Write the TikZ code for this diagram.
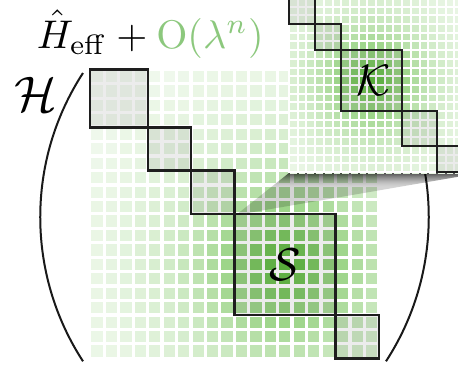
\documentclass[tikz,border=0pt]{standalone}
\usepackage{amsmath}
\definecolor{gcol}{RGB}{76,178,40}
\definecolor{tgreen}{RGB}{140,200,125}
\definecolor{edgec}{RGB}{30,30,30}
\tikzset{
  blockbox/.style={fill=black!45, fill opacity=0.17},
  blockedge/.style={draw=edgec, line width=2.4pt},
  paren/.style={draw=black!90, line width=2pt},
  lbl/.style={inner sep=0pt, text=black},
}
\begin{document}
\begin{tikzpicture}[x=1pt,y=-1pt]
\useasboundingbox (0,0) rectangle (458,370);
\def\p{14.45}
\def\q{8.7}
% main grid
\foreach \i in {0,...,19}{
  \foreach \j in {0,...,19}{
    \pgfmathsetmacro\d{sqrt((\i-13)*(\i-13)+(\j-13)*(\j-13))}
    \pgfmathtruncatemacro\v{100/(1+pow(\d/4.5+0.001,1.8))}
    \fill[gcol!\v!white] ({90+\i*\p+1.4},{69.5+\j*\p+1.4}) rectangle ++(11.2,11.2);
  }
}
% main diagonal blocks
\foreach \s/\n in {0/4,4/3,7/3,10/7,17/3}{
  \fill[blockbox] ({90+\s*\p},{69.5+\s*\p}) rectangle ++({\n*\p},{\n*\p});
  \draw[blockedge] ({90+\s*\p},{69.5+\s*\p}) rectangle ++({\n*\p},{\n*\p});
}
\node[lbl, scale=4.6] (scal) at (285,265) {$\mathcal{S}$};
% parentheses
\draw[paren] (83,73) arc[start angle=213.05, end angle=146.95, radius=264.3];
\draw[paren] (386,73) arc[start angle=-33.05, end angle=33.05, radius=264.3];
% projection cone
\begin{scope}
  \clip (236,215) -- (289,173) -- (480,173) -- cycle;
  \fill[black, opacity=0.17] (230,170) rectangle (460,220);
  \foreach \k in {0,...,13}{
    \pgfmathsetmacro\op{0.6*pow(1-\k/14,1.6)}
    \fill[black, opacity=\op] (230,{173+\k}) rectangle (460,{174.1+\k});
  }
\end{scope}
% inset
\begin{scope}
  \clip (287.5,-5) rectangle (460,173);
  \fill[white] (287.5,-5) rectangle (460,173);
  \foreach \i in {0,...,19}{
    \foreach \j in {0,...,20}{
      \pgfmathsetmacro\d{sqrt((\i-9)*(\i-9)+(\j-9)*(\j-9))}
      \pgfmathtruncatemacro\v{100/(1+pow(\d/4.5+0.001,1.8))}
      \fill[gcol!\v!white] ({289+\i*\q+1.0},{-2.1+\j*\q+1.0}) rectangle ++(6.7,6.7);
    }
  }
  \foreach \s/\n in {0/3,3/3,6/7,13/4,17/3}{
    \fill[blockbox] ({289+\s*\q},{-2.1+\s*\q}) rectangle ++({\n*\q},{\n*\q});
    \draw[blockedge] ({289+\s*\q},{-2.1+\s*\q}) rectangle ++({\n*\q},{\n*\q});
  }
\end{scope}
\node[lbl, scale=4.4] (kcal) at (374,80) {$\mathcal{K}$};
% labels
\node[lbl, anchor=base west, scale=4] (heff) at (36,48)
  {$\hat H_{\mathrm{eff}} + {\color{tgreen}\mathrm{O}(\lambda^n)}$};
\node[lbl, scale=5] (hcal) at (36,94) {$\mathcal{H}$};
\end{tikzpicture}
\end{document}
